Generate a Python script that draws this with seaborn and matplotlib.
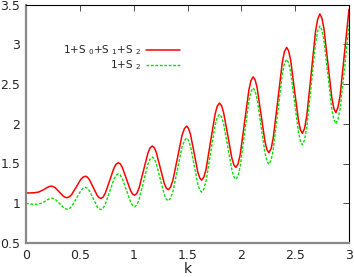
import matplotlib
matplotlib.use("Agg")
import matplotlib.pyplot as plt
import seaborn as sns
import pandas as pd

# ---- data ----
k_red = [0.000, 0.040, 0.080, 0.120, 0.160, 0.200, 0.235,
         0.272, 0.308, 0.345, 0.381,
         0.424, 0.467, 0.509, 0.552,
         0.588, 0.624, 0.660, 0.696,
         0.736, 0.777, 0.817, 0.857,
         0.895, 0.933, 0.971, 1.009,
         1.050, 1.091, 1.132, 1.173,
         1.210, 1.247, 1.284, 1.321,
         1.364, 1.407, 1.449, 1.492,
         1.527, 1.562, 1.596, 1.631,
         1.673, 1.714, 1.756, 1.797,
         1.835, 1.874, 1.912, 1.950,
         1.990, 2.030, 2.070, 2.110,
         2.147, 2.183, 2.220, 2.256,
         2.297, 2.339, 2.380, 2.421,
         2.458, 2.494, 2.531, 2.567,
         2.608, 2.649, 2.689, 2.730,
         2.767, 2.804, 2.841, 2.878,
         2.918, 2.959, 3.000]
s_red = [1.130, 1.130, 1.132, 1.142, 1.168, 1.200, 1.215,
         1.194, 1.143, 1.091, 1.070,
         1.109, 1.205, 1.301, 1.340,
         1.299, 1.200, 1.101, 1.060,
         1.126, 1.285, 1.444, 1.510,
         1.450, 1.305, 1.160, 1.100,
         1.191, 1.410, 1.629, 1.720,
         1.640, 1.445, 1.250, 1.170,
         1.287, 1.570, 1.853, 1.970,
         1.871, 1.630, 1.389, 1.290,
         1.432, 1.775, 2.118, 2.260,
         2.142, 1.855, 1.568, 1.450,
         1.616, 2.020, 2.424, 2.590,
         2.451, 2.113, 1.774, 1.635,
         1.828, 2.298, 2.767, 2.960,
         2.802, 2.420, 2.038, 1.880,
         2.099, 2.630, 3.161, 3.380,
         3.199, 2.760, 2.321, 2.140,
         2.360, 2.900, 3.440]
# extra readings close to each crest and dip of the red curve
k_red_near = [0.216, 0.254, 0.362, 0.402, 0.531, 0.570, 0.678, 0.716,
              0.837, 0.876, 0.990, 1.030, 1.152, 1.192, 1.302, 1.342,
              1.471, 1.509, 1.614, 1.652, 1.776, 1.816, 1.931, 1.970,
              2.090, 2.128, 2.238, 2.277, 2.400, 2.439, 2.549, 2.587,
              2.710, 2.748, 2.860, 2.898]
s_red_near = [1.210, 1.209, 1.076, 1.081, 1.329, 1.329, 1.071, 1.078,
              1.492, 1.494, 1.116, 1.125, 1.695, 1.698, 1.192, 1.202,
              1.938, 1.943, 1.317, 1.329, 2.221, 2.228, 1.482, 1.496,
              2.544, 2.552, 1.673, 1.688, 2.907, 2.917, 1.923, 1.940,
              3.320, 3.330, 2.190, 2.207]

k_green = [0.000, 0.040, 0.080, 0.120, 0.160, 0.200, 0.240,
           0.276, 0.313, 0.349, 0.385,
           0.427, 0.469, 0.510, 0.552,
           0.588, 0.624, 0.660, 0.696,
           0.736, 0.777, 0.817, 0.857,
           0.895, 0.933, 0.971, 1.009,
           1.050, 1.091, 1.132, 1.173,
           1.210, 1.247, 1.284, 1.321,
           1.364, 1.407, 1.449, 1.492,
           1.527, 1.562, 1.596, 1.631,
           1.673, 1.714, 1.756, 1.797,
           1.835, 1.874, 1.912, 1.950,
           1.990, 2.030, 2.070, 2.110,
           2.147, 2.183, 2.220, 2.256,
           2.297, 2.339, 2.380, 2.421,
           2.458, 2.494, 2.531, 2.567,
           2.608, 2.649, 2.689, 2.730,
           2.767, 2.804, 2.841, 2.878,
           2.918, 2.959, 3.000]
s_green = [1.000, 0.990, 0.985, 0.990, 1.010, 1.045, 1.064,
           1.044, 0.995, 0.945, 0.925,
           0.965, 1.063, 1.160, 1.200,
           1.159, 1.060, 0.961, 0.920,
           0.986, 1.145, 1.304, 1.370,
           1.309, 1.163, 1.016, 0.955,
           1.046, 1.268, 1.489, 1.580,
           1.500, 1.305, 1.110, 1.030,
           1.145, 1.425, 1.705, 1.820,
           1.721, 1.480, 1.239, 1.140,
           1.283, 1.630, 1.977, 2.120,
           2.000, 1.710, 1.420, 1.300,
           1.468, 1.875, 2.282, 2.450,
           2.310, 1.970, 1.630, 1.490,
           1.683, 2.150, 2.617, 2.810,
           2.653, 2.273, 1.893, 1.735,
           1.953, 2.483, 3.012, 3.230,
           3.050, 2.615, 2.180, 2.000,
           2.190, 2.700, 3.240]
# extra readings close to each crest and dip of the green curve
k_green_near = [0.220, 0.258, 0.367, 0.406, 0.531, 0.570, 0.678, 0.716,
                0.837, 0.876, 0.990, 1.030, 1.152, 1.192, 1.302, 1.342,
                1.471, 1.509, 1.614, 1.652, 1.776, 1.816, 1.931, 1.970,
                2.090, 2.128, 2.238, 2.277, 2.400, 2.439, 2.549, 2.587,
                2.710, 2.748, 2.860, 2.898]
s_green_near = [1.058, 1.058, 0.931, 0.936, 1.189, 1.189, 0.931, 0.938,
                1.352, 1.353, 0.972, 0.980, 1.555, 1.558, 1.052, 1.062,
                1.788, 1.793, 1.167, 1.179, 2.081, 2.087, 1.333, 1.346,
                2.404, 2.412, 1.528, 1.543, 2.757, 2.767, 1.778, 1.795,
                3.170, 3.181, 2.049, 2.060]

label_red = "1+S ${}_0$+S ${}_1$+S ${}_2$"
label_green = "1+S ${}_2$"
x_ticks = [0, 0.5, 1, 1.5, 2, 2.5, 3]
x_ticklabels = ["0", "0.5", "1", "1.5", "2", "2.5", "3"]
y_ticks = [0.5, 1, 1.5, 2, 2.5, 3, 3.5]
y_ticklabels = ["0.5", "1", "1.5", "2", "2.5", "3", "3.5"]

sns.set_style("white")
plt.rcParams["font.family"] = ["DejaVu Sans"]
plt.rcParams["mathtext.fontset"] = "dejavusans"

df_red = pd.DataFrame({"k": k_red + k_red_near, "S": s_red + s_red_near})
df_green = pd.DataFrame({"k": k_green + k_green_near, "S": s_green + s_green_near})

fig = plt.figure(figsize=(3.54, 2.77), dpi=100)
ax = fig.add_axes([26 / 354, 1 - 243 / 277, 323 / 354, 238.5 / 277])

sns.lineplot(data=df_red, x="k", y="S", ax=ax, color="#ff0000", lw=1.1,
             label=label_red, sort=True)
sns.lineplot(data=df_green, x="k", y="S", ax=ax, color="#00e000", lw=1.0,
             label=label_green, sort=True)
ax.lines[1].set_dashes([2.0, 1.2])

ax.set_xlim(0, 3)
ax.set_ylim(0.5, 3.5)
ax.set_xticks(x_ticks)
ax.set_xticklabels(x_ticklabels)
ax.set_yticks(y_ticks)
ax.set_yticklabels(y_ticklabels)
ax.set_xlabel("k", fontsize=10, labelpad=0)
ax.set_ylabel("")
ax.tick_params(direction="in", top=True, right=True, length=4, width=0.6,
               labelsize=9, color="#333333")
ax.tick_params(axis="y", pad=4)
ax.tick_params(axis="x", pad=4.5)

for side in ["left", "bottom"]:
    ax.spines[side].set_color("#888888")
    ax.spines[side].set_linewidth(1.6)
for side in ["top", "right"]:
    ax.spines[side].set_color("black")
    ax.spines[side].set_linewidth(0.8)

leg = ax.legend(loc="upper right", bbox_to_anchor=((180 - 26) / 323, (242.8 - 43) / 238.5),
                frameon=False, markerfirst=False, fontsize=7.5, handlelength=3.3,
                handletextpad=0.4, labelspacing=0.15, borderpad=0, borderaxespad=0)

fig.savefig("out.png", dpi=100)
